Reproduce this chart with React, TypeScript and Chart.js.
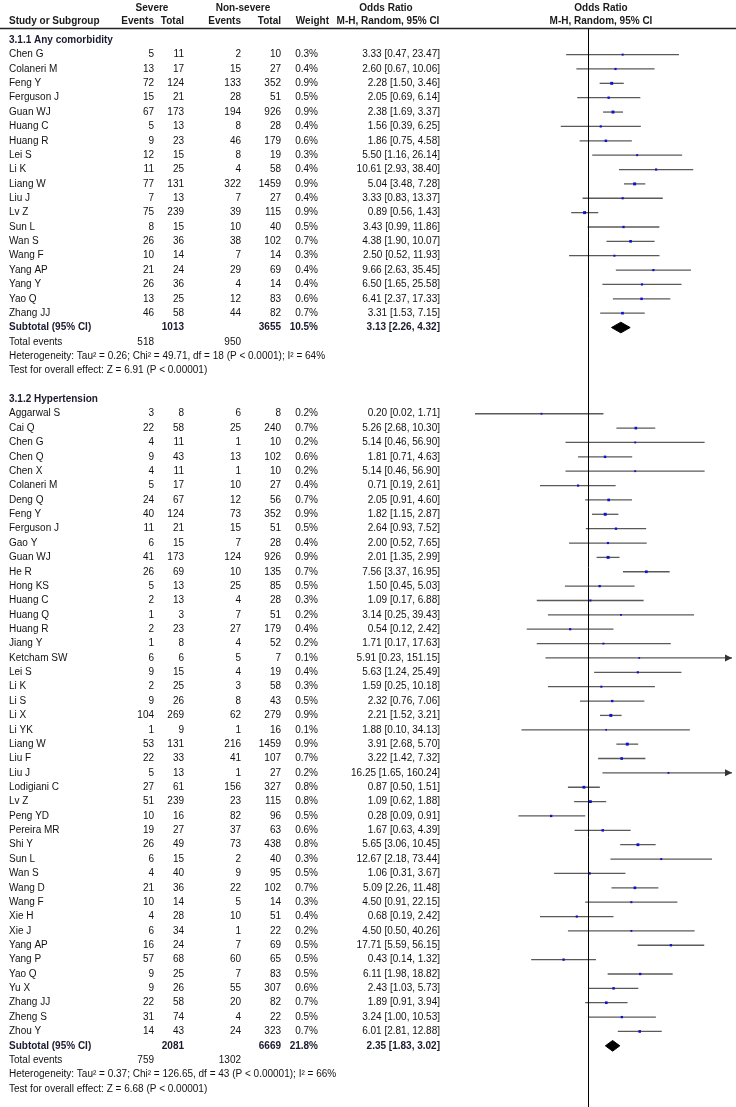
import React, { useEffect, useRef } from "react";
import { Chart, registerables } from "chart.js";
Chart.register(...registerables);

// ---------- Data: 3.1.1 Any comorbidity ----------
const studies1 = ["Chen G", "Colaneri M", "Feng Y", "Ferguson J", "Guan WJ", "Huang C", "Huang R", "Lei S", "Li K", "Liang W", "Liu J", "Lv Z", "Sun L", "Wan S", "Wang F", "Yang AP", "Yang Y", "Yao Q", "Zhang JJ"];
const sevEvents1 = [5, 13, 72, 15, 67, 5, 9, 12, 11, 77, 7, 75, 8, 26, 10, 21, 26, 13, 46];
const sevTotal1 = [11, 17, 124, 21, 173, 13, 23, 15, 25, 131, 13, 239, 15, 36, 14, 24, 36, 25, 58];
const nsEvents1 = [2, 15, 133, 28, 194, 8, 46, 8, 4, 322, 7, 39, 10, 38, 7, 29, 4, 12, 44];
const nsTotal1 = [10, 27, 352, 51, 926, 28, 179, 19, 58, 1459, 27, 115, 40, 102, 14, 69, 14, 83, 82];
const weight1 = [0.3, 0.4, 0.9, 0.5, 0.9, 0.4, 0.6, 0.3, 0.4, 0.9, 0.4, 0.9, 0.5, 0.7, 0.3, 0.4, 0.4, 0.6, 0.7];
const or1 = [3.33, 2.6, 2.28, 2.05, 2.38, 1.56, 1.86, 5.5, 10.61, 5.04, 3.33, 0.89, 3.43, 4.38, 2.5, 9.66, 6.5, 6.41, 3.31];
const lo1 = [0.47, 0.67, 1.5, 0.69, 1.69, 0.39, 0.75, 1.16, 2.93, 3.48, 0.83, 0.56, 0.99, 1.9, 0.52, 2.63, 1.65, 2.37, 1.53];
const hi1 = [23.47, 10.06, 3.46, 6.14, 3.37, 6.25, 4.58, 26.14, 38.4, 7.28, 13.37, 1.43, 11.86, 10.07, 11.93, 35.45, 25.58, 17.33, 7.15];
const subTotals1 = [1013, 3655];
const subWeight1 = 10.5;
const subOR1 = [3.13, 2.26, 4.32];
const totalEvents1 = [518, 950];
const het1 = "Heterogeneity: Tau\u00B2 = 0.26; Chi\u00B2 = 49.71, df = 18 (P < 0.0001); I\u00B2 = 64%";
const test1 = "Test for overall effect: Z = 6.91 (P < 0.00001)";

// ---------- Data: 3.1.2 Hypertension ----------
const studies2 = ["Aggarwal S", "Cai Q", "Chen G", "Chen Q", "Chen X", "Colaneri M", "Deng Q", "Feng Y", "Ferguson J", "Gao Y", "Guan WJ", "He R", "Hong KS", "Huang C", "Huang Q", "Huang R", "Jiang Y", "Ketcham SW", "Lei S", "Li K", "Li S", "Li X", "Li YK", "Liang W", "Liu F", "Liu J", "Lodigiani C", "Lv Z", "Peng YD", "Pereira MR", "Shi Y", "Sun L", "Wan S", "Wang D", "Wang F", "Xie H", "Xie J", "Yang AP", "Yang P", "Yao Q", "Yu X", "Zhang JJ", "Zheng S", "Zhou Y"];
const sevEvents2 = [3, 22, 4, 9, 4, 5, 24, 40, 11, 6, 41, 26, 5, 2, 1, 2, 1, 6, 9, 2, 9, 104, 1, 53, 22, 5, 27, 51, 10, 19, 26, 6, 4, 21, 10, 4, 6, 16, 57, 9, 9, 22, 31, 14];
const sevTotal2 = [8, 58, 11, 43, 11, 17, 67, 124, 21, 15, 173, 69, 13, 13, 3, 23, 8, 6, 15, 25, 26, 269, 9, 131, 33, 13, 61, 239, 16, 27, 49, 15, 40, 36, 14, 28, 34, 24, 68, 25, 26, 58, 74, 43];
const nsEvents2 = [6, 25, 1, 13, 1, 10, 12, 73, 15, 7, 124, 10, 25, 4, 7, 27, 4, 5, 4, 3, 8, 62, 1, 216, 41, 1, 156, 23, 82, 37, 73, 2, 9, 22, 5, 10, 1, 7, 60, 7, 55, 20, 4, 24];
const nsTotal2 = [8, 240, 10, 102, 10, 27, 56, 352, 51, 28, 926, 135, 85, 28, 51, 179, 52, 7, 19, 58, 43, 279, 16, 1459, 107, 27, 327, 115, 96, 63, 438, 40, 95, 102, 14, 51, 22, 69, 65, 83, 307, 82, 22, 323];
const weight2 = [0.2, 0.7, 0.2, 0.6, 0.2, 0.4, 0.7, 0.9, 0.5, 0.4, 0.9, 0.7, 0.5, 0.3, 0.2, 0.4, 0.2, 0.1, 0.4, 0.3, 0.5, 0.9, 0.1, 0.9, 0.7, 0.2, 0.8, 0.8, 0.5, 0.6, 0.8, 0.3, 0.5, 0.7, 0.3, 0.4, 0.2, 0.5, 0.5, 0.5, 0.6, 0.7, 0.5, 0.7];
const or2 = [0.2, 5.26, 5.14, 1.81, 5.14, 0.71, 2.05, 1.82, 2.64, 2.0, 2.01, 7.56, 1.5, 1.09, 3.14, 0.54, 1.71, 5.91, 5.63, 1.59, 2.32, 2.21, 1.88, 3.91, 3.22, 16.25, 0.87, 1.09, 0.28, 1.67, 5.65, 12.67, 1.06, 5.09, 4.5, 0.68, 4.5, 17.71, 0.43, 6.11, 2.43, 1.89, 3.24, 6.01];
const lo2 = [0.02, 2.68, 0.46, 0.71, 0.46, 0.19, 0.91, 1.15, 0.93, 0.52, 1.35, 3.37, 0.45, 0.17, 0.25, 0.12, 0.17, 0.23, 1.24, 0.25, 0.76, 1.52, 0.1, 2.68, 1.42, 1.65, 0.5, 0.62, 0.09, 0.63, 3.06, 2.18, 0.31, 2.26, 0.91, 0.19, 0.5, 5.59, 0.14, 1.98, 1.03, 0.91, 1.0, 2.81];
const hi2 = [1.71, 10.3, 56.9, 4.63, 56.9, 2.61, 4.6, 2.87, 7.52, 7.65, 2.99, 16.95, 5.03, 6.88, 39.43, 2.42, 17.63, 151.15, 25.49, 10.18, 7.06, 3.21, 34.13, 5.7, 7.32, 160.24, 1.51, 1.88, 0.91, 4.39, 10.45, 73.44, 3.67, 11.48, 22.15, 2.42, 40.26, 56.15, 1.32, 18.82, 5.73, 3.94, 10.53, 12.88];
const subTotals2 = [2081, 6669];
const subWeight2 = 21.8;
const subOR2 = [2.35, 1.83, 3.02];
const totalEvents2 = [759, 1302];
const het2 = "Heterogeneity: Tau\u00B2 = 0.37; Chi\u00B2 = 126.65, df = 43 (P < 0.00001); I\u00B2 = 66%";
const test2 = "Test for overall effect: Z = 6.68 (P < 0.00001)";

const titles = ["3.1.1 Any comorbidity", "3.1.2 Hypertension"];
const headerTop = ["Severe", "Non-severe", "Odds Ratio", "Odds Ratio"];
const headerBottom = ["Study or Subgroup", "Events", "Total", "Events", "Total", "Weight", "M-H, Random, 95% CI", "M-H, Random, 95% CI"];

// ---------- Layout ----------
const W = 736;
const H = 1107;
const ROW0 = 36.5;
const STEP = 14.47;
const X_MIN = 0.01;
const X_MAX = 147;
const PLOT_LEFT = 455;
const FONT = "Liberation Sans, Arial, sans-serif";
const FS = 10;
const COL = { name: 9, sevEv: 154, sevTot: 184, nsEv: 241, nsTot: 281, weight: 318, or: 440 };

const sections = [
  { title: titles[0], names: studies1, sevEv: sevEvents1, sevTot: sevTotal1, nsEv: nsEvents1, nsTot: nsTotal1, w: weight1, or: or1, lo: lo1, hi: hi1, subTot: subTotals1, subW: subWeight1, subOR: subOR1, totEv: totalEvents1, het: het1, test: test1 },
  { title: titles[1], names: studies2, sevEv: sevEvents2, sevTot: sevTotal2, nsEv: nsEvents2, nsTot: nsTotal2, w: weight2, or: or2, lo: lo2, hi: hi2, subTot: subTotals2, subW: subWeight2, subOR: subOR2, totEv: totalEvents2, het: het2, test: test2 },
];

function layoutRows() {
  let r = 0;
  return sections.map((s) => {
    const titleRow = r++;
    const studyRows = s.names.map(() => r++);
    const subRow = r++;
    const totRow = r++;
    const hetRow = r++;
    const testRow = r++;
    r++;
    return { ...s, titleRow, studyRows, subRow, totRow, hetRow, testRow };
  });
}

const fmt2 = (v: number) => v.toFixed(2);
const orText = (o: number, l: number, h: number) => `${fmt2(o)} [${fmt2(l)}, ${fmt2(h)}]`;

export default function App() {
  const ref = useRef<HTMLCanvasElement | null>(null);

  useEffect(() => {
    const canvas = ref.current;
    if (!canvas) return;
    const rows = layoutRows();
    const datasets: any[] = [];
    const markers: any[] = [];
    const radii: number[] = [];

    rows.forEach((s) => {
      s.names.forEach((_, i) => {
        const y = s.studyRows[i];
        datasets.push({
          type: "line",
          data: [{ x: s.lo[i], y }, { x: s.hi[i], y }],
          borderColor: "#5a5a5a",
          borderWidth: 1.3,
          pointRadius: 0,
          showLine: true,
          fill: false,
          order: 3,
        });
        markers.push({ x: s.or[i], y });
        radii.push(1.1 + s.w[i] * 1.1);
      });
      const [o, l, h] = s.subOR;
      const y = s.subRow;
      datasets.push({
        type: "line",
        data: [
          { x: l, y },
          { x: o, y: y - 0.37 },
          { x: h, y },
          { x: o, y: y + 0.37 },
          { x: l, y },
        ],
        borderColor: "#000",
        backgroundColor: "#000",
        borderWidth: 1,
        pointRadius: 0,
        showLine: true,
        fill: "shape",
        tension: 0,
        order: 1,
      });
    });

    datasets.push({
      type: "scatter",
      data: markers,
      pointStyle: "rect",
      pointRadius: radii,
      backgroundColor: "#1010d0",
      borderWidth: 0,
      order: 0,
    });

    const textPlugin = {
      id: "forestText",
      afterDatasetsDraw(chart: any) {
        const ctx = chart.ctx as CanvasRenderingContext2D;
        const xs = chart.scales.x;
        const ys = chart.scales.y;
        const ruleY = 28.5;
        ctx.save();
        ctx.strokeStyle = "#222";
        ctx.lineWidth = 1.5;
        ctx.beginPath();
        ctx.moveTo(0, ruleY);
        ctx.lineTo(W, ruleY);
        ctx.stroke();
        const x1 = Math.round(xs.getPixelForValue(1)) + 0.5;
        ctx.strokeStyle = "#000";
        ctx.lineWidth = 1;
        ctx.beginPath();
        ctx.moveTo(x1, ruleY);
        ctx.lineTo(x1, H);
        ctx.stroke();
        ctx.fillStyle = "#333";
        rows.forEach((s) => {
          s.names.forEach((_, i) => {
            if (s.hi[i] > X_MAX) {
              const y = ys.getPixelForValue(s.studyRows[i]);
              const xr = xs.right;
              ctx.beginPath();
              ctx.moveTo(xr, y);
              ctx.lineTo(xr - 7, y - 3.5);
              ctx.lineTo(xr - 7, y + 3.5);
              ctx.closePath();
              ctx.fill();
            }
          });
        });

        const txt = (t: string, x: number, y: number, align: CanvasTextAlign, bold = false, color = "#111") => {
          ctx.font = `${bold ? "bold " : ""}${FS}px ${FONT}`;
          ctx.fillStyle = color;
          ctx.textAlign = align;
          ctx.textBaseline = "middle";
          ctx.fillText(t, x, y);
        };

        const hy1 = 8.5;
        const hy2 = 21.5;
        const hc = "#1a1a1a";
        txt(headerTop[0], 152, hy1, "center", true, hc);
        txt(headerTop[1], 243, hy1, "center", true, hc);
        txt(headerTop[2], 386, hy1, "center", true, hc);
        txt(headerTop[3], 601, hy1, "center", true, hc);
        txt(headerBottom[0], COL.name, hy2, "left", true, hc);
        txt(headerBottom[1], COL.sevEv, hy2, "right", true, hc);
        txt(headerBottom[2], COL.sevTot, hy2, "right", true, hc);
        txt(headerBottom[3], COL.nsEv, hy2, "right", true, hc);
        txt(headerBottom[4], COL.nsTot, hy2, "right", true, hc);
        txt(headerBottom[5], 329, hy2, "right", true, hc);
        txt(headerBottom[6], 388, hy2, "center", true, hc);
        txt(headerBottom[7], 601, hy2, "center", true, hc);

        rows.forEach((s) => {
          txt(s.title, COL.name, ys.getPixelForValue(s.titleRow), "left", true, "#1a1a2e");
          s.names.forEach((n, i) => {
            const y = ys.getPixelForValue(s.studyRows[i]);
            txt(n, COL.name, y, "left");
            txt(String(s.sevEv[i]), COL.sevEv, y, "right");
            txt(String(s.sevTot[i]), COL.sevTot, y, "right");
            txt(String(s.nsEv[i]), COL.nsEv, y, "right");
            txt(String(s.nsTot[i]), COL.nsTot, y, "right");
            txt(`${s.w[i].toFixed(1)}%`, COL.weight, y, "right");
            txt(orText(s.or[i], s.lo[i], s.hi[i]), COL.or, y, "right");
          });
          const sy = ys.getPixelForValue(s.subRow);
          const sc = "#1a1a2e";
          txt("Subtotal (95% CI)", COL.name, sy, "left", true, sc);
          txt(String(s.subTot[0]), COL.sevTot, sy, "right", true, sc);
          txt(String(s.subTot[1]), COL.nsTot, sy, "right", true, sc);
          txt(`${s.subW.toFixed(1)}%`, COL.weight, sy, "right", true, sc);
          txt(orText(s.subOR[0], s.subOR[1], s.subOR[2]), COL.or, sy, "right", true, sc);
          const ty = ys.getPixelForValue(s.totRow);
          txt("Total events", COL.name, ty, "left");
          txt(String(s.totEv[0]), COL.sevEv, ty, "right");
          txt(String(s.totEv[1]), COL.nsEv, ty, "right");
          txt(s.het, COL.name, ys.getPixelForValue(s.hetRow), "left");
          txt(s.test, COL.name, ys.getPixelForValue(s.testRow), "left");
        });
        ctx.restore();
      },
    };

    const chart = new Chart(canvas, {
      type: "scatter",
      data: { datasets },
      options: {
        animation: false,
        responsive: false,
        maintainAspectRatio: false,
        events: [],
        layout: { padding: { left: PLOT_LEFT, right: 0, top: 0, bottom: 0 } },
        plugins: { legend: { display: false }, tooltip: { enabled: false } },
        scales: {
          x: { type: "logarithmic", min: X_MIN, max: X_MAX, display: false },
          y: { type: "linear", min: -ROW0 / STEP, max: (H - ROW0) / STEP, reverse: true, display: false },
        },
      },
      plugins: [textPlugin],
    } as any);
    return () => chart.destroy();
  }, []);

  return (
    <div style={{ position: "absolute", left: 0, top: 0, width: W, height: H, background: "#fff" }}>
      <canvas ref={ref} width={W} height={H} style={{ display: "block" }} />
    </div>
  );
}
